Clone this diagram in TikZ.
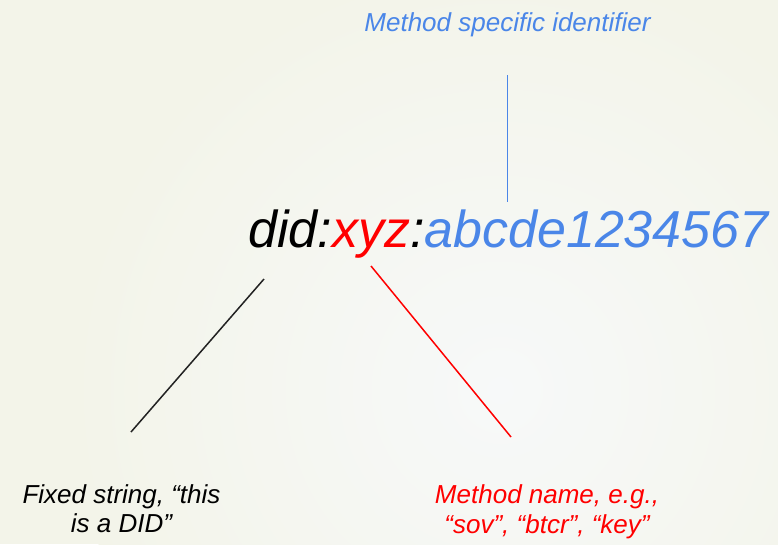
\documentclass[tikz,border=0pt]{standalone}
\usepackage{fontspec}
\setmainfont{Liberation Sans}
\definecolor{didblue}{HTML}{4A86E8}
\definecolor{didred}{HTML}{FF0000}
\definecolor{didink}{HTML}{222222}
\definecolor{bgcream}{HTML}{F3F4E9}
\definecolor{bgcore}{HTML}{F7F9F9}
\begin{document}
\begin{tikzpicture}[x=1pt,y=-1pt,
  tagtext/.style={font=\fontsize{26}{29.5}\selectfont\itshape, align=center, inner sep=0pt},
  bigtext/.style={font=\fontsize{52}{60}\selectfont\itshape, inner sep=0pt},
  leader/.style={line width=1.5pt}]
\useasboundingbox (0,0) rectangle (778,544);
% soft background
\fill[bgcream] (0,0) rectangle (778,544);
\shade[inner color=bgcore, outer color=bgcream] (500,390) circle (430);

% the identifier
\node[bigtext, anchor=base west] (did) at (248,247)
  {did:\textcolor{didred}{xyz}:\textcolor{didblue}{abcde1234567}};

% annotations (base anchor sits on the last line)
\node[tagtext, text=didblue, anchor=base] (msi) at (507.5,31) {Method specific identifier};
\node[tagtext, text=black, anchor=base] (fixed) at (121.5,532.5) {Fixed string, “this\\is a DID”};
\node[tagtext, text=didred, anchor=base] (method) at (547,533) {Method name, e.g.,\\“sov”, “btcr”, “key”};

% leader line end points
\coordinate (msiFoot) at (507.5,75);
\coordinate (msiHead) at (507.5,202);
\coordinate (didFoot) at (264,279);
\coordinate (fixedHead) at (131,432);
\coordinate (xyzFoot) at (371,266);
\coordinate (methodHead) at (511,437);

\draw[leader, didblue] (msiFoot) -- (msiHead);
\draw[leader, didink] (didFoot) -- (fixedHead);
\draw[leader, didred] (xyzFoot) -- (methodHead);
\end{tikzpicture}
\end{document}
